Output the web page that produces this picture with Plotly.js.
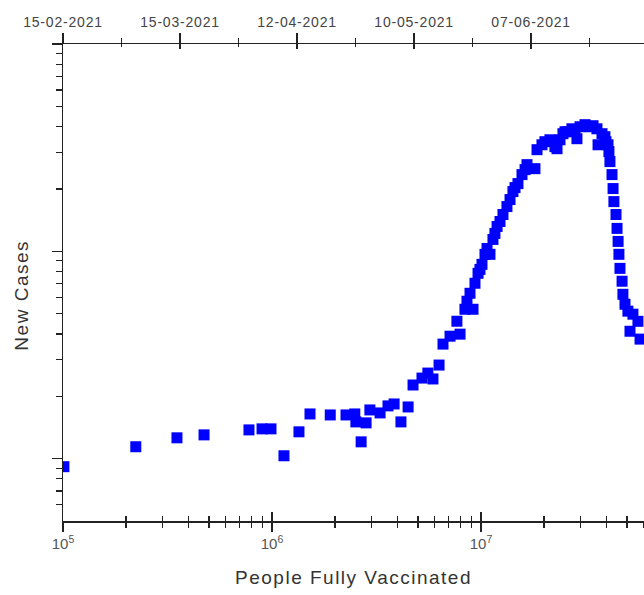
<!DOCTYPE html>
<html>
<head>
<meta charset="utf-8">
<script src="https://cdn.plot.ly/plotly-3.0.1.min.js"></script>
<style>
html,body{margin:0;padding:0;background:#fff;}
#chart{width:644px;height:595px;}
#chart text.xtitle, #chart g.annotation text{letter-spacing:1.5px;}
#chart g.x2tick text{letter-spacing:0.8px;}
</style>
</head>
<body>
<div id="chart"></div>
<script>
// People fully vaccinated (x, log scale)
const peopleFullyVaccinated = [101000, 223000, 351000, 473000, 776000, 896000, 989000, 1141000, 1346000, 1520000,
  1900000, 2260000, 2490000, 2520000, 2670000, 2820000, 2940000, 3290000, 3590000, 3840000,
  4140000, 4480000, 4730000, 5220000, 5570000, 5890000, 6300000, 6580000, 7110000, 7670000,
  7940000, 8380000, 8570000, 8860000, 9160000, 9360000, 9680000, 9890000, 10110000, 10450000,
  10690000, 11040000, 11410000, 11660000, 11940000, 12330000, 12740000, 13310000, 13770000, 14220000,
  14550000, 15030000, 15710000, 16250000, 16600000, 18120000, 18540000, 19580000, 20230000, 21380000,
  22590000, 23110000, 23880000, 24670000, 25240000, 26060000, 27230000, 28180000, 28780000, 29780000,
  31460000, 33250000, 34360000, 35890000, 36310000, 37930000, 39170000, 39630000, 40530000, 40940000,
  41400000, 42360000, 42850000, 43250000, 44260000, 44770000, 45290000, 45710000, 46240000, 47320000,
  47760000, 48870000, 50470000, 51640000, 53330000, 56360000, 57680000];
// New cases (y, log scale)
const newCases = [9160, 11430, 12620, 13040, 13780, 13940, 13940, 10340, 13490, 16450,
  16270, 16270, 16450, 15060, 12070, 14900, 17200, 16640, 17990, 18380,
  15060, 17780, 22690, 24500, 25900, 24260, 28310, 35730, 39000, 46050,
  39900, 52600, 57500, 62800, 52600, 70200, 78400, 81900, 86600, 96800,
  103300, 96800, 114200, 122100, 131900, 139400, 150600, 164500, 177800, 194300,
  203100, 212300, 234600, 247900, 262000, 250600, 309300, 326700, 338000, 345300,
  319800, 312700, 345300, 369400, 377600, 377600, 390100, 386400, 349400, 399000,
  408300, 399000, 403600, 390100, 326700, 369400, 357300, 338000, 326700, 302700,
  271000, 234600, 200900, 173800, 150600, 129100, 111700, 96800, 82800, 71800,
  62100, 55600, 51500, 41200, 49800, 46000, 37760];
// Top date axis
const dateStart = '2021-02-15';
const dateEnd = '2021-07-04';
const dateTick0 = '2021-02-15';

const xRangeLog = [5, 7.78];
const yRangeLog = [3.7, 6];
const DAY = 86400000;

const fam = 'Liberation Sans, Arial, sans-serif';
const tickFont = {family: fam, size: 12, color: '#555'};
const dateFont = {family: fam, size: 14, color: '#444'};
const axisCol = '#222';

const trace = {
  type: 'scatter', mode: 'markers',
  x: peopleFullyVaccinated, y: newCases,
  xaxis: 'x', yaxis: 'y',
  marker: {symbol: 'square', size: 11, color: '#0000ff', line: {width: 0}},
  hoverinfo: 'x+y'
};
// empty carriers so the extra (top date / crossing-tick) axes get drawn
const carrier = (ax) => ({type: 'scatter', mode: 'markers', x: [], y: [], xaxis: ax, yaxis: 'y', hoverinfo: 'skip'});

const layout = {
  width: 644, height: 595,
  margin: {l: 63, r: 0, t: 44, b: 74},
  paper_bgcolor: '#fff', plot_bgcolor: '#fff',
  showlegend: false,
  xaxis: {
    type: 'log', range: xRangeLog, dtick: 1,
    exponentformat: 'power', showexponent: 'all',
    showline: true, linecolor: axisCol, linewidth: 1.5,
    ticks: 'outside', ticklen: 9, tickwidth: 1.3, tickcolor: axisCol,
    minor: {ticks: 'outside', ticklen: 5, tickwidth: 1.2, tickcolor: axisCol, dtick: 'D1', showgrid: false},
    showgrid: false, zeroline: false,
    tickfont: tickFont,
    title: {text: 'People Fully Vaccinated', font: {family: fam, size: 19, color: '#333'}, standoff: 20}
  },
  xaxis3: {
    type: 'log', range: xRangeLog, dtick: 1, overlaying: 'x', anchor: 'y', side: 'bottom',
    showline: false, showticklabels: false,
    ticks: 'inside', ticklen: 9, tickwidth: 1.3, tickcolor: axisCol,
    minor: {ticks: 'inside', ticklen: 5, tickwidth: 1.2, tickcolor: axisCol, dtick: 'D1', showgrid: false},
    showgrid: false, zeroline: false
  },
  xaxis2: {
    type: 'date', range: [dateStart, dateEnd], overlaying: 'x', anchor: 'y', side: 'top',
    tick0: dateTick0, dtick: 28 * DAY, tickformat: '%d-%m-%Y',
    showline: true, linecolor: axisCol, linewidth: 1.5,
    ticks: 'outside', ticklen: 10, tickwidth: 1.3, tickcolor: axisCol,
    minor: {ticks: 'outside', ticklen: 5, tickwidth: 1.2, tickcolor: axisCol, dtick: 14 * DAY, tick0: dateTick0, showgrid: false},
    showgrid: false, zeroline: false,
    tickfont: dateFont
  },
  xaxis4: {
    type: 'date', range: [dateStart, dateEnd], overlaying: 'x', anchor: 'y', side: 'top',
    tick0: dateTick0, dtick: 28 * DAY, showticklabels: false, showline: false,
    ticks: 'inside', ticklen: 5, tickwidth: 1.3, tickcolor: axisCol,
    minor: {ticks: 'inside', ticklen: 3, tickwidth: 1.2, tickcolor: axisCol, dtick: 14 * DAY, tick0: dateTick0, showgrid: false},
    showgrid: false, zeroline: false
  },
  yaxis: {
    type: 'log', range: yRangeLog, dtick: 1,
    showline: true, linecolor: axisCol, linewidth: 1.5,
    ticks: 'outside', ticklen: 10, tickwidth: 1.3, tickcolor: axisCol,
    minor: {ticks: 'outside', ticklen: 6, tickwidth: 1.2, tickcolor: axisCol, dtick: 'D1', showgrid: false},
    showticklabels: false, showgrid: false, zeroline: false
  },
  annotations: [{
    text: 'New Cases', xref: 'paper', yref: 'paper', x: -0.0706, y: 0.474,
    xanchor: 'center', yanchor: 'middle', textangle: -90, showarrow: false,
    font: {family: fam, size: 19, color: '#333'}
  }]
};

Plotly.newPlot('chart', [trace, carrier('x2'), carrier('x3'), carrier('x4')], layout, {staticPlot: true, displayModeBar: false});
</script>
</body>
</html>
